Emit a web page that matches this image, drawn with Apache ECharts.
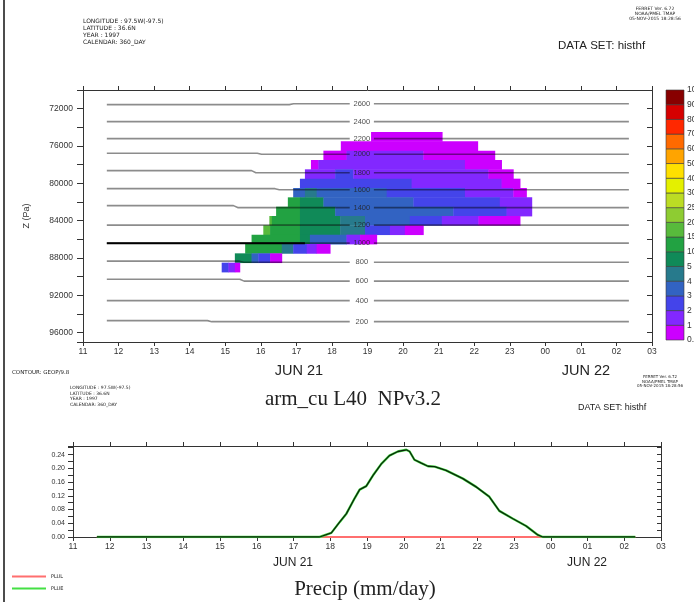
<!DOCTYPE html>
<html>
<head>
<meta charset="utf-8">
<title>arm_cu L40 NPv3.2</title>
<script src="https://cdn.jsdelivr.net/npm/echarts@6/dist/echarts.min.js"></script>
<style>
  html, body { margin: 0; padding: 0; background: #ffffff; }
  #chart { width: 694px; height: 602px; }
</style>
</head>
<body>
<div id="chart"></div>
<script>
// ---- time axis: hours counted from 00 on JUN 21 (24 = 00 on JUN 22) ----
const timeMin = 11;
const timeMax = 27;

// ---- shaded field: colour classes ----
const classEdges  = [0.5, 1, 2, 3, 4, 5, 10, 15, 20, 25, 30, 40, 50, 60, 70, 80, 90, 100];
const classLabels = ['0.5', '1', '2', '3', '4', '5', '10', '15', '20', '25', '30', '40', '50', '60', '70', '80', '90', '100'];
const classColors = ['#cc00ff', '#8228ff', '#4444ea', '#3263c2', '#277a8c', '#108a58', '#22a242', '#58ba3c',
                     '#8ecc32', '#bcdc24', '#e4f000', '#ffe000', '#ffa400', '#ff6a00', '#ff2800', '#d60000', '#880000'];

// ---- shaded field: model layers (Pa), each 1000 Pa deep ----
const layerTop = [74500, 75500, 76500, 77500, 78500, 79500, 80500, 81500, 82500, 83500, 84500, 85500, 86500, 87500, 88500];
const layerDepth = 1000;

// runs of one class along each layer: [start hour, end hour, value]
const layerRuns = [
  [[19.10, 21.10, 0.5]],
  [[18.25, 22.10, 0.5]],
  [[17.76, 18.41, 0.5], [18.41, 20.57, 1.5], [20.57, 22.58, 0.5]],
  [[17.41, 17.62, 0.5], [17.62, 21.74, 1.5], [21.74, 22.77, 0.5]],
  [[17.24, 18.09, 1.5], [18.09, 18.60, 2.5], [18.60, 22.40, 1.5], [22.40, 23.10, 0.5]],
  [[17.10, 20.24, 2.5], [20.24, 22.77, 1.5], [22.77, 23.29, 0.5]],
  [[16.91, 17.24, 3.5], [17.24, 17.57, 4.5], [17.57, 19.54, 3.5], [19.54, 21.74, 2.5], [21.74, 23.10, 1.5], [23.10, 23.47, 0.5]],
  [[16.76, 17.10, 12], [17.10, 17.76, 7], [17.76, 20.29, 3.5], [20.29, 22.72, 2.5], [22.72, 23.62, 1.5]],
  [[16.43, 17.10, 12], [17.10, 18.09, 7], [18.09, 21.41, 3.5], [21.41, 22.91, 2.5], [22.91, 23.62, 1.5]],
  [[16.24, 16.31, 17], [16.31, 17.10, 12], [17.10, 18.23, 7], [18.23, 18.93, 4.5], [18.93, 20.19, 3.5], [20.19, 21.09, 2.5], [21.09, 22.12, 1.5], [22.12, 23.29, 0.5]],
  [[16.07, 16.26, 17], [16.26, 17.10, 12], [17.10, 18.23, 7], [18.23, 18.93, 4.5], [18.93, 19.63, 2.5], [19.63, 20.05, 1.5], [20.05, 20.57, 0.5]],
  [[15.74, 17.10, 12], [17.10, 17.38, 7], [17.38, 18.41, 3.5], [18.41, 18.79, 1.5], [18.79, 19.26, 0.5]],
  [[15.56, 16.59, 12], [16.59, 16.91, 4.5], [16.91, 17.29, 2.5], [17.29, 17.57, 1.5], [17.57, 17.95, 0.5]],
  [[15.27, 15.74, 7], [15.74, 15.93, 3.5], [15.93, 16.26, 2.5], [16.26, 16.59, 0.5]],
  [[14.90, 15.09, 2.5], [15.09, 15.27, 1.5], [15.27, 15.41, 0.5]]
];

// ---- contours of GEOP/9.8 (m): pressure west and east of a small jog ----
const contourValues   = [2600, 2400, 2200, 2000, 1800, 1600, 1400, 1200, 1000, 800, 600, 400, 200];
const contourPresWest = [71570, 73390, 75210, 76770, 78640, 80570, 82390, 84480, 86410, 88340, 90270, 92570, 94710];
const contourPresEast = [71470, 73390, 75210, 76880, 78860, 80680, 82600, 84480, 86410, 88450, 90480, 92570, 94820];
const contourJogHour  = [16.8, 16.0, 15.6, 15.9, 15.74, 16.4, 15.23, 16.0, 16.0, 15.4, 15.41, 16.0, 14.5];
const contourStart = 11.67;
const contourEnd = 26.35;
const contourLabelHour = 18.84;
const contourGap = [18.50, 19.18];
const boldSegmentEnd = 17.24;   // heavy stroke on the 1000 m contour

// ---- precipitation (mm/day) ----
const precipHours = [11.65, 17.71, 18.03, 18.26, 18.44, 18.66, 18.80, 18.98, 19.16, 19.39, 19.61, 19.84, 20.07, 20.16,
                     20.29, 20.48, 20.66, 20.84, 21.15, 21.61, 21.97, 22.33, 22.60, 22.96, 23.33, 23.65, 23.78, 26.30];
const precipPLUE  = [0, 0, 0.012, 0.044, 0.068, 0.112, 0.138, 0.148, 0.179, 0.213, 0.237, 0.249, 0.254, 0.249,
                     0.225, 0.215, 0.206, 0.205, 0.194, 0.170, 0.146, 0.117, 0.076, 0.054, 0.032, 0.006, 0, 0];
const plulHours  = [11.65, 26.30];
const plulValues = [0, 0];

// ---------------------------------------------------------------------
const pad2 = n => (n < 10 ? '0' : '') + n;
const hourLabel = v => pad2(((Math.round(v) % 24) + 24) % 24);

function classColor(v) {
  for (let i = 0; i < classColors.length; i++) {
    if (v < classEdges[i + 1]) return classColors[i];
  }
  return classColors[classColors.length - 1];
}

const fieldCells = [];
layerRuns.forEach((runs, k) => {
  runs.forEach(r => fieldCells.push([r[0], r[1], layerTop[k], layerTop[k] + layerDepth, r[2]]));
});

const axisFont = { fontFamily: 'Liberation Sans', fontSize: 8.5, color: '#333' };

function timeAxis(grid, pos, labels) {
  return {
    type: 'value', gridIndex: grid, position: pos, min: timeMin, max: timeMax, interval: 1,
    axisLine: { show: true, onZero: false, lineStyle: { color: '#333', width: 1 } },
    axisTick: { show: true, inside: false, length: 4, lineStyle: { color: '#333' } },
    axisLabel: labels ? Object.assign({ show: true, margin: 5, formatter: hourLabel }, axisFont) : { show: false },
    splitLine: { show: false }
  };
}

const series = [];

// shaded field
series.push({
  type: 'custom', xAxisIndex: 0, yAxisIndex: 0, clip: true, z: 2,
  data: fieldCells,
  renderItem(params, api) {
    const a = api.coord([api.value(0), api.value(2)]);
    const b = api.coord([api.value(1), api.value(3)]);
    const x = Math.min(a[0], b[0]), y = Math.min(a[1], b[1]);
    return {
      type: 'rect',
      shape: { x: x, y: y, width: Math.abs(b[0] - a[0]) + 0.4, height: Math.abs(b[1] - a[1]) + 0.4 },
      style: { fill: classColor(api.value(4)) }
    };
  }
});

// contour lines, split where the label sits
contourValues.forEach((cv, i) => {
  const w = contourPresWest[i], e = contourPresEast[i], s = contourJogHour[i];
  const west = [[contourStart, w], [s, w], [s + 0.12, e], [contourGap[0], e]];
  const east = [[contourGap[1], e], [contourEnd, e]];
  [west, east].forEach(part => series.push({
    type: 'line', xAxisIndex: 0, yAxisIndex: 0, data: part, showSymbol: false, symbol: 'none',
    silent: true, z: 3, lineStyle: { color: 'rgba(0,0,0,0.45)', width: 1.6 }
  }));
});
series.push({
  type: 'line', xAxisIndex: 0, yAxisIndex: 0, symbol: 'none', silent: true, z: 4,
  data: [[contourStart, contourPresWest[8]], [boldSegmentEnd, contourPresWest[8]]],
  lineStyle: { color: '#000', width: 2 }
});
series.push({
  type: 'scatter', xAxisIndex: 0, yAxisIndex: 0, symbolSize: 0, silent: true, z: 5,
  data: contourValues.map((cv, i) => [contourLabelHour, contourPresEast[i], cv]),
  label: {
    show: true, position: 'inside', formatter: p => String(p.value[2]),
    fontFamily: 'Liberation Sans', fontSize: 7.5, color: '#222'
  }
});

// colour bar
series.push({
  type: 'custom', xAxisIndex: 4, yAxisIndex: 4, z: 2,
  data: classColors.map((c, i) => [i, i + 1]),
  renderItem(params, api) {
    const a = api.coord([0, api.value(0)]);
    const b = api.coord([1, api.value(1)]);
    return {
      type: 'rect',
      shape: { x: a[0], y: b[1], width: b[0] - a[0], height: a[1] - b[1] },
      style: { fill: classColors[params.dataIndex], stroke: '#3a3a3a', lineWidth: 0.6 }
    };
  }
});

// precipitation curves
series.push({
  name: 'PLUL', type: 'line', xAxisIndex: 2, yAxisIndex: 2, symbol: 'none', z: 3,
  data: plulHours.map((h, i) => [h, plulValues[i]]),
  lineStyle: { color: '#ff6f6f', width: 2 }, itemStyle: { color: '#ff6f6f' }
});
series.push({
  name: 'PLUE', type: 'line', xAxisIndex: 2, yAxisIndex: 2, symbol: 'none', z: 4,
  data: precipHours.map((h, i) => [h, precipPLUE[i]]),
  lineStyle: { color: '#44e044', width: 2.4 }, itemStyle: { color: '#44e044' }
});
series.push({
  type: 'line', xAxisIndex: 2, yAxisIndex: 2, symbol: 'none', z: 5, silent: true,
  data: precipHours.map((h, i) => [h, precipPLUE[i]]),
  lineStyle: { color: 'rgba(0,0,0,0.85)', width: 1.3 }
});

const smallText = (text, x, y, size, extra) => ({
  type: 'text', x: x, y: y, silent: true,
  style: Object.assign({ text: text, font: size + 'px "DejaVu Sans"', fill: '#222', textVerticalAlign: 'middle' }, extra || {})
});

const graphic = [
  { type: 'line', shape: { x1: 4, y1: 0, x2: 4, y2: 602 }, style: { stroke: '#111', lineWidth: 1.5 } },
  smallText('LONGITUDE : 97.5W(-97.5)', 83, 21, 6),
  smallText('LATITUDE : 36.6N', 83, 28, 6),
  smallText('YEAR : 1997', 83, 35, 6),
  smallText('CALENDAR: 360_DAY', 83, 42, 6),
  smallText('FERRET Ver. 6.72', 655, 9, 4.5, { textAlign: 'center' }),
  smallText('NOAA/PMEL TMAP', 655, 14, 4.5, { textAlign: 'center' }),
  smallText('05-NOV-2015 18:28:56', 655, 19, 4.5, { textAlign: 'center' }),
  smallText('DATA SET: histhf', 558, 46, 11.5, { font: '11.5px "Liberation Sans"' }),
  smallText('CONTOUR: GEOP/9.8', 12, 373, 5.5),
  smallText('JUN 21', 299, 371, 14.5, { textAlign: 'center', font: '14.5px "Liberation Sans"' }),
  smallText('JUN 22', 586, 371, 14.5, { textAlign: 'center', font: '14.5px "Liberation Sans"' }),
  smallText('FERRET Ver. 6.72', 660, 377, 4, { textAlign: 'center' }),
  smallText('NOAA/PMEL TMAP', 660, 381.5, 4, { textAlign: 'center' }),
  smallText('05-NOV-2015 18:28:56', 660, 386, 4, { textAlign: 'center' }),
  smallText('LONGITUDE : 97.5W(-97.5)', 70, 388, 4.5),
  smallText('LATITUDE : 36.6N', 70, 393.5, 4.5),
  smallText('YEAR : 1997', 70, 399, 4.5),
  smallText('CALENDAR: 360_DAY', 70, 404.5, 4.5),
  smallText('arm_cu L40  NPv3.2', 353, 399, 21, { textAlign: 'center', font: '21px "Liberation Serif"' }),
  smallText('DATA SET: histhf', 578, 408, 9, { font: '9px "Liberation Sans"' }),
  smallText('JUN 21', 293, 563, 12, { textAlign: 'center', font: '12px "Liberation Sans"' }),
  smallText('JUN 22', 587, 563, 12, { textAlign: 'center', font: '12px "Liberation Sans"' }),
  smallText('Precip (mm/day)', 365, 589, 21, { textAlign: 'center', font: '21px "Liberation Serif"' })
];

const option = {
  animation: false,
  backgroundColor: '#ffffff',
  grid: [
    { left: 83, top: 90, width: 569, height: 252, outerBoundsMode: 'none', containLabel: false },
    { left: 73, top: 446, width: 588, height: 91, outerBoundsMode: 'none', containLabel: false },
    { left: 666, top: 90, width: 18, height: 250, outerBoundsMode: 'none', containLabel: false }
  ],
  xAxis: [
    timeAxis(0, 'bottom', true),
    timeAxis(0, 'top', false),
    timeAxis(1, 'bottom', true),
    timeAxis(1, 'top', false),
    { type: 'value', gridIndex: 2, min: 0, max: 1, show: false }
  ],
  yAxis: [
    {
      type: 'value', gridIndex: 0, position: 'left', inverse: true, min: 70000, max: 97000, interval: 2000,
      name: 'Z (Pa)', nameLocation: 'middle', nameGap: 52, nameRotate: 90,
      nameTextStyle: { fontFamily: 'Liberation Sans', fontSize: 9, color: '#333' },
      axisLine: { show: true, onZero: false, lineStyle: { color: '#333' } },
      axisTick: { show: true, length: 6, lineStyle: { color: '#333' } },
      axisLabel: Object.assign({ margin: 10, formatter: v => (v % 4000 === 0 ? String(v) : '') }, axisFont),
      splitLine: { show: false }
    },
    {
      type: 'value', gridIndex: 0, position: 'right', inverse: true, min: 70000, max: 97000, interval: 2000,
      axisLine: { show: true, onZero: false, lineStyle: { color: '#333' } },
      axisTick: { show: true, inside: true, length: 5, lineStyle: { color: '#333' } },
      axisLabel: { show: false }, splitLine: { show: false }
    },
    {
      type: 'value', gridIndex: 1, position: 'left', min: 0, max: 0.265, interval: 0.02,
      axisLine: { show: true, onZero: false, lineStyle: { color: '#333' } },
      axisTick: { show: true, length: 5, lineStyle: { color: '#333' } },
      axisLabel: Object.assign({ margin: 8, formatter: v => (Math.round(v * 100) % 4 === 0 ? v.toFixed(2) : '') }, axisFont, { fontSize: 7 }),
      splitLine: { show: false }
    },
    {
      type: 'value', gridIndex: 1, position: 'right', min: 0, max: 0.265, interval: 0.02,
      axisLine: { show: true, onZero: false, lineStyle: { color: '#333' } },
      axisTick: { show: true, inside: true, length: 4, lineStyle: { color: '#333' } },
      axisLabel: { show: false }, splitLine: { show: false }
    },
    {
      type: 'value', gridIndex: 2, position: 'right', min: 0, max: classColors.length, interval: 1,
      axisLine: { show: false }, axisTick: { show: false }, splitLine: { show: false },
      axisLabel: Object.assign({ margin: 3, formatter: v => classLabels[v] || '' }, axisFont, { fontSize: 8.5 })
    }
  ],
  legend: {
    data: ['PLUL', 'PLUE'], orient: 'vertical', left: 7, top: 569, itemGap: 7,
    itemWidth: 34, itemHeight: 2, icon: 'rect',
    textStyle: { fontFamily: 'DejaVu Sans', fontSize: 5, color: '#222' }
  },
  series: series,
  graphic: graphic
};

const chart = echarts.init(document.getElementById('chart'));
chart.setOption(option);
</script>
</body>
</html>
